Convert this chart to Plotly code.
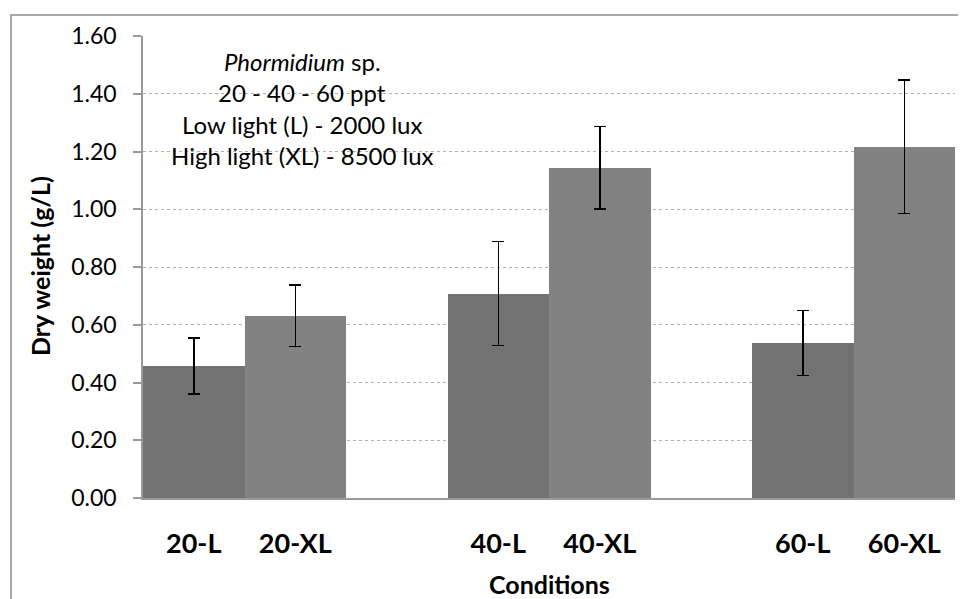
import plotly.graph_objects as go

categories = ["20-L", "20-XL", "", "40-L", "40-XL", "", "60-L", "60-XL"]
low_labels = ["20-L", "40-L", "60-L"]
low_pos = [0, 3, 6]
low_vals = [0.457, 0.708, 0.537]
low_err = [0.097, 0.180, 0.113]
high_labels = ["20-XL", "40-XL", "60-XL"]
high_pos = [1, 4, 7]
high_vals = [0.631, 1.144, 1.217]
high_err = [0.106, 0.143, 0.231]
y_ticks = [0, 0.2, 0.4, 0.6, 0.8, 1.0, 1.2, 1.4, 1.6]

FONT = "Lato"
OFF = 8  # default page body margin
W, H = 966 - OFF, 599 - OFF
L, T = 143 - OFF, 36 - OFF
R = W - (955 - OFF)
B = H - (498 - OFF)
PW, PH = W - L - R, H - T - B


def px_x(x):
    return (x - OFF - L) / PW


def px_y(y):
    return 1 - (y - OFF - T) / PH


fig = go.Figure()
fig.add_trace(go.Bar(
    x=low_pos, y=low_vals, width=[1] * len(low_pos),
    marker=dict(color="#727272", line=dict(width=0)),
    error_y=dict(type="data", array=low_err, color="black", thickness=1.5, width=6),
    showlegend=False, name="Low light"))
fig.add_trace(go.Bar(
    x=high_pos, y=high_vals, width=[1] * len(high_pos),
    marker=dict(color="#828282", line=dict(width=0)),
    error_y=dict(type="data", array=high_err, color="black", thickness=1.5, width=6),
    showlegend=False, name="High light"))

fig.update_layout(
    width=W, height=H,
    margin=dict(l=L, r=R, t=T, b=B),
    paper_bgcolor="white", plot_bgcolor="white",
    barmode="overlay", bargap=0,
    font=dict(family=FONT, size=23, color="black"),
)
fig.update_xaxes(
    range=[-0.5, 7.5], tickmode="array",
    tickvals=list(range(len(categories))), ticktext=[f"<b>{c}</b>" for c in categories],
    showline=True, linecolor="#9a9a9a", linewidth=1.5, ticks="", showgrid=False,
    tickfont=dict(size=27), ticklabelstandoff=21, automargin=False,
)
fig.update_yaxes(
    range=[0, 1.6], tickvals=y_ticks, ticktext=[f"{v:.2f}" for v in y_ticks],
    showline=True, linecolor="#9a9a9a", linewidth=1.5,
    ticks="outside", ticklen=8, tickcolor="#9a9a9a", tickwidth=1.5,
    showgrid=True, gridcolor="#b0b0b0", griddash="dot", gridwidth=1,
    zeroline=False, tickfont=dict(size=23), ticklabelstandoff=12, automargin=False,
)

fig.add_shape(type="rect", xref="paper", yref="paper",
              x0=px_x(11), x1=1.2, y0=-0.4, y1=px_y(15),
              line=dict(color="#8c8c8c", width=1.5), fillcolor="rgba(0,0,0,0)", layer="below")

# axis titles
fig.add_annotation(xref="paper", yref="paper", x=px_x(549), y=px_y(584),
                   text="<b>Conditions</b>", showarrow=False, font=dict(size=25),
                   xanchor="center", yanchor="middle")
fig.add_annotation(xref="paper", yref="paper", x=px_x(40), y=px_y(266),
                   text="<b>Dry weight (g/L)</b>", showarrow=False, font=dict(size=25),
                   textangle=-90, xanchor="center", yanchor="middle")

ann_lines = ["<i>Phormidium</i> sp.", "20 - 40 - 60 ppt",
             "Low light (L) - 2000 lux", "High light (XL) - 8500 lux"]
for i, t in enumerate(ann_lines):
    ypx = 61 + i * 31.5
    fig.add_annotation(xref="paper", yref="paper", x=px_x(302),
                       y=px_y(ypx), text=t, showarrow=False,
                       font=dict(size=24), xanchor="center", yanchor="middle")

fig.write_html("out.html")
